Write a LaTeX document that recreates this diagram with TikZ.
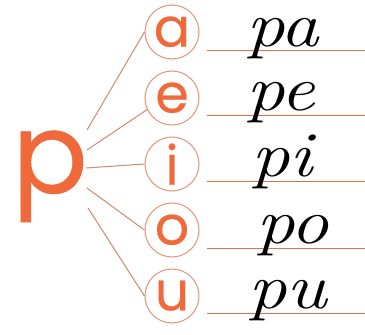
\documentclass[tikz,border=0pt]{standalone}
\usepackage{fontspec}
\usepackage{graphicx}
\newfontfamily\geo{Poppins}[FakeBold=0.4]
\definecolor{porange}{HTML}{F0693A}
\definecolor{ring}{HTML}{E49A80}
\definecolor{conn}{HTML}{C98A72}
\definecolor{rule}{HTML}{E0704E}
\tikzset{
  vowel/.style={circle,draw=ring,line width=1.1pt,minimum size=54pt,inner sep=0pt,
     text=porange,font=\geo\fontsize{54}{54}\selectfont},
  link/.style={draw=conn,line width=1pt},
  wline/.style={draw=rule,line width=0.9pt},
  syll/.style={inner sep=0pt,anchor=base west,font=\itshape\fontsize{64}{64}\selectfont}
}
\begin{document}
\begin{tikzpicture}[x=1pt,y=-1pt]
\useasboundingbox (0,0) rectangle (365,335);
\node[text=porange,font=\geo\fontsize{112}{112}\selectfont,inner sep=0pt,anchor=base] (P) at (50,193) {p};
\coordinate (s1) at (87,130);
\coordinate (s2) at (87,150);
\coordinate (s3) at (86,168);
\coordinate (s4) at (87,188);
\coordinate (s5) at (88,208);
\node[vowel] (ca) at (172,32) {\raisebox{1pt}{a}};
\node[vowel] (ce) at (172,98) {\raisebox{1pt}{e}};
\node[vowel] (ci) at (172,164) {i};
\node[vowel] (co) at (172,230) {\raisebox{1pt}{o}};
\node[vowel] (cu) at (172,296) {\raisebox{1pt}{u}};
\draw[link] (s1) -- (ca.west);
\draw[link] (s2) -- (ce.205);
\draw[link] (s3) -- (ci.west);
\draw[link] (s4) -- (co.west);
\draw[link] (s5) -- (cu.west);
\coordinate (l1) at (207,50);  \coordinate (r1) at (365,50);
\coordinate (l2) at (207,115); \coordinate (r2) at (365,115);
\coordinate (l3) at (207,181); \coordinate (r3) at (365,181);
\coordinate (l4) at (207,248); \coordinate (r4) at (365,248);
\coordinate (l5) at (207,313); \coordinate (r5) at (365,313);
\draw[wline] (l1) -- (r1);
\draw[wline] (l2) -- (r2);
\draw[wline] (l3) -- (r3);
\draw[wline] (l4) -- (r4);
\draw[wline] (l5) -- (r5);
\node[syll] (pa) at (246,46) {\scalebox{1.2}[1]{pa}};
\node[syll] (pe) at (246,110) {\scalebox{1.2}[1]{pe}};
\node[syll] (pi) at (251,176) {\scalebox{1.2}[1]{pi}};
\node[syll] (po) at (256,243) {\scalebox{1.2}[1]{po}};
\node[syll] (pu) at (248,308) {\scalebox{1.2}[1]{pu}};
\end{tikzpicture}
\end{document}
